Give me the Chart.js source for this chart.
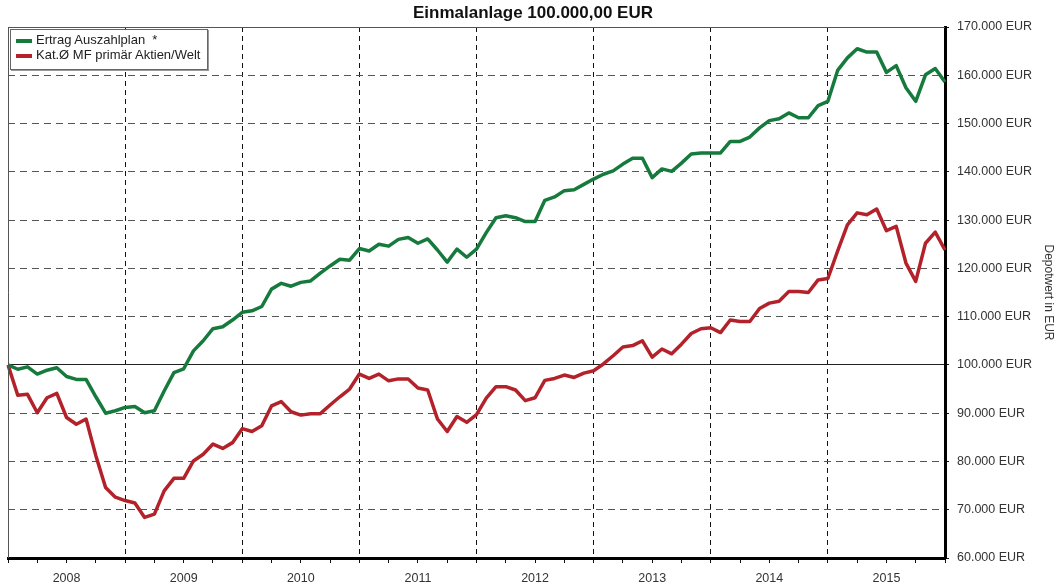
<!DOCTYPE html>
<html lang="de">
<head>
  <meta charset="UTF-8">
  <title>Einmalanlage 100.000,00 EUR</title>
  <script src="https://cdn.jsdelivr.net/npm/chart.js"></script>
  <style>
    body {
      margin: 0;
      background: #fff;
      font-family: 'Liberation Sans', Arial, sans-serif;
    }
    .wrap {
      position: relative;
      width: 1058px;
      height: 587px;
    }
    canvas {
      position: absolute;
      left: 0;
      top: 0;
    }
    #legende {
      position: absolute;
      left: 10px;
      top: 29px;
      width: 196px;
      height: 37px;
      background: #fff;
      border: 1px solid #666;
      box-shadow: 1px 1px 0 #999;
      font-size: 13px;
      color: #222;
      padding-top: 2px;
    }
    #legende div {
      height: 15px;
      line-height: 15px;
      white-space: pre;
    }
    #legende span {
      display: inline-block;
      width: 16px;
      height: 4px;
      margin: 0 4px 0 5px;
      vertical-align: middle;
    }
  </style>
</head>
<body>

<div class="wrap">
  <canvas id="grafik" width="1058" height="587"></canvas>
  <div id="legende"></div>
</div>

<script>
  // Jahre der x-Achse, Monatswerte von Jan 2008 bis Ende 2015
  const jahre = [2008, 2009, 2010, 2011, 2012, 2013, 2014, 2015];

  const namen = ['Ertrag Auszahlplan  *', 'Kat.Ø MF primär Aktien/Welt'];
  const farben = ['#177a3d', '#b3222a'];

  const ertrag = [
    100000, 99100, 99600, 98100, 98900, 99400, 97600, 97000, 97000, 93400, 90000, 90500,
    91200, 91400, 90100, 90500, 94600, 98400, 99200, 102900, 105000, 107500, 107900, 109300,
    110900, 111200, 112100, 115700, 116900, 116300, 117100, 117400, 119000, 120500, 121900, 121700,
    124100, 123600, 125000, 124600, 126000, 126400, 125200, 126100, 123800, 121300, 124000, 122300,
    124000, 127400, 130500, 130900, 130500, 129700, 129700, 134100, 134800, 136100, 136300, 137400,
    138500, 139500, 140200, 141600, 142800, 142800, 138800, 140600, 140100, 141800, 143700, 143900,
    143900, 143900, 146300, 146300, 147200, 149100, 150600, 151000, 152200, 151200, 151200, 153700,
    154600, 161000, 163600, 165500, 164800, 164800, 160600, 162000, 157400, 154600, 160100, 161400,
    158600
  ];

  const kategorie = [
    100000, 93700, 93900, 90100, 93200, 94100, 89100, 87700, 88800, 81200, 74600, 72600,
    71900, 71400, 68400, 69100, 73900, 76500, 76500, 80100, 81500, 83600, 82700, 83900,
    86800, 86200, 87400, 91500, 92400, 90300, 89600, 89900, 89900, 91700, 93400, 95000,
    98100, 97200, 98100, 96700, 97100, 97100, 95200, 94800, 88800, 86200, 89300, 88100,
    89700, 93100, 95500, 95500, 94800, 92600, 93200, 96800, 97200, 97900, 97400, 98300,
    98800, 100200, 101900, 103700, 104000, 105000, 101600, 103300, 102300, 104300, 106500, 107500,
    107700, 106700, 109300, 109000, 109000, 111700, 112800, 113200, 115200, 115200, 115000, 117600,
    117900, 123600, 129000, 131500, 131100, 132300, 127800, 128700, 121100, 117300, 125200, 127500,
    123800
  ];

  // Monatsbeschriftungen (ein Punkt pro Monatsanfang, letzter = Jan 2016)
  const monate = [];
  jahre.forEach(j => {
    for (let m = 1; m <= 12; m++) monate.push(m + '/' + j);
  });
  monate.push('1/' + (jahre[jahre.length - 1] + 1));

  function eur(v) {
    return String(v).replace(/\B(?=(\d{3})+(?!\d))/g, '.') + ' EUR';
  }

  // Legende als HTML
  const leg = document.getElementById('legende');
  namen.forEach((n, i) => {
    const d = document.createElement('div');
    const s = document.createElement('span');
    s.style.background = farben[i];
    d.appendChild(s);
    d.appendChild(document.createTextNode(n));
    leg.appendChild(d);
  });

  // duenner Rahmen oben und links
  const rahmen = {
    id: 'rahmen',
    afterDraw(chart) {
      const { ctx, chartArea: a } = chart;
      ctx.save();
      ctx.strokeStyle = '#555';
      ctx.lineWidth = 1;
      ctx.beginPath();
      ctx.moveTo(a.left + 0.5, a.bottom);
      ctx.lineTo(a.left + 0.5, a.top + 0.5);
      ctx.lineTo(a.right, a.top + 0.5);
      ctx.stroke();
      ctx.restore();
    }
  };

  const schrift = { family: "'Liberation Sans', Arial, sans-serif", size: 12.5 };

  new Chart(document.getElementById('grafik'), {
    type: 'line',
    data: {
      labels: monate,
      datasets: [
        { label: namen[0], data: ertrag, borderColor: farben[0] },
        { label: namen[1], data: kategorie, borderColor: farben[1] }
      ]
    },
    options: {
      responsive: false,
      animation: false,
      layout: { padding: { left: 8, right: 0, top: 0, bottom: 0 } },
      elements: {
        line: { borderWidth: 3.5, tension: 0, borderJoinStyle: 'round' },
        point: { radius: 0 }
      },
      plugins: {
        legend: { display: false },
        tooltip: { enabled: false },
        title: {
          display: true,
          text: 'Einmalanlage 100.000,00 EUR',
          color: '#111',
          font: { family: schrift.family, size: 17, weight: 'bold' },
          padding: { top: 3, bottom: 3.6 }
        }
      },
      scales: {
        x: {
          offset: false,
          ticks: {
            autoSkip: false,
            maxRotation: 0,
            color: '#333',
            font: schrift,
            padding: 8,
            callback: (v, i) => (i % 12 === 6 ? String(jahre[(i - 6) / 12]) : '')
          },
          grid: {
            color: c => (c.index % 12 === 0 && c.index > 0 && c.index < monate.length - 1) ? '#111' : 'rgba(0,0,0,0)',
            tickColor: c => (c.index % 3 === 0 ? '#111' : 'rgba(0,0,0,0)'),
            tickLength: 5,
            lineWidth: 1
          },
          border: { display: true, color: '#000', width: 3, dash: [5, 4] },
          afterFit: s => { s.height = 29; }
        },
        y: {
          position: 'right',
          min: 60000,
          max: 170000,
          ticks: {
            stepSize: 10000,
            color: '#333',
            font: schrift,
            padding: 8,
            callback: v => eur(v)
          },
          grid: {
            color: c => (c.tick && c.tick.value === 100000) ? '#222' : '#555',
            tickColor: '#111',
            tickLength: 4,
            lineWidth: 1
          },
          border: {
            display: true,
            color: '#000',
            width: 3,
            dash: c => (c.tick && c.tick.value === 100000) ? [] : [7, 5]
          },
          title: {
            display: true,
            text: 'Depotwert in EUR',
            color: '#333',
            font: { family: schrift.family, size: 12 },
            padding: { top: 2, bottom: 2 }
          },
          afterFit: s => { s.width = 113; }
        }
      }
    },
    plugins: [rahmen]
  });
</script>

</body>
</html>
